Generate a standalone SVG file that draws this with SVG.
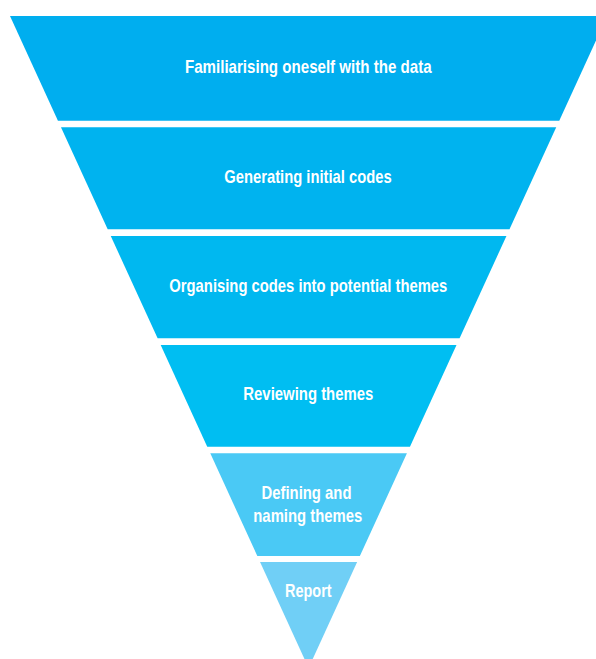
<svg xmlns="http://www.w3.org/2000/svg" width="596" height="659" viewBox="0 0 596 659">
  <style>
    .lbl { font-family: "Liberation Sans", Arial, sans-serif; font-size: 19px; font-weight: bold; fill: #ffffff; text-anchor: middle; }
  </style>
  <rect x="0" y="0" width="596" height="659" fill="#ffffff"/>
  <g id="band1">
    <polygon points="10,16 607.2,16 559.25,120.7 57.95,120.7" fill="#00aeef"/>
    <text class="lbl" x="308.3" y="73.3" textLength="246.7" lengthAdjust="spacingAndGlyphs">Familiarising oneself with the data</text>
  </g>
  <g id="band2">
    <polygon points="60.98,127.3 556.22,127.3 509.51,229.3 107.69,229.3" fill="#00b3ef"/>
    <text class="lbl" x="308" y="182.7" textLength="167.4" lengthAdjust="spacingAndGlyphs">Generating initial codes</text>
  </g>
  <g id="band3">
    <polygon points="110.76,236 506.44,236 459.59,338.3 157.61,338.3" fill="#00b8f0"/>
    <text class="lbl" x="308.3" y="291.7" textLength="278" lengthAdjust="spacingAndGlyphs">Organising codes into potential themes</text>
  </g>
  <g id="band4">
    <polygon points="160.68,345 456.52,345 409.95,446.7 207.25,446.7" fill="#00bef2"/>
    <text class="lbl" x="308.3" y="399.7" textLength="130" lengthAdjust="spacingAndGlyphs">Reviewing themes</text>
  </g>
  <g id="band5">
    <polygon points="210.28,453.3 406.92,453.3 359.88,556 257.32,556" fill="#4ac9f5"/>
    <text class="lbl" x="306.5" y="499" textLength="90" lengthAdjust="spacingAndGlyphs">Defining and</text>
    <text class="lbl" x="307.8" y="521.7" textLength="109" lengthAdjust="spacingAndGlyphs">naming themes</text>
  </g>
  <g id="band6">
    <polygon points="260.07,562 357.13,562 308.6,668" fill="#70cff6"/>
    <text class="lbl" x="308.3" y="596.7" textLength="46.7" lengthAdjust="spacingAndGlyphs">Report</text>
  </g>
  <g id="connectors"/>
</svg>
